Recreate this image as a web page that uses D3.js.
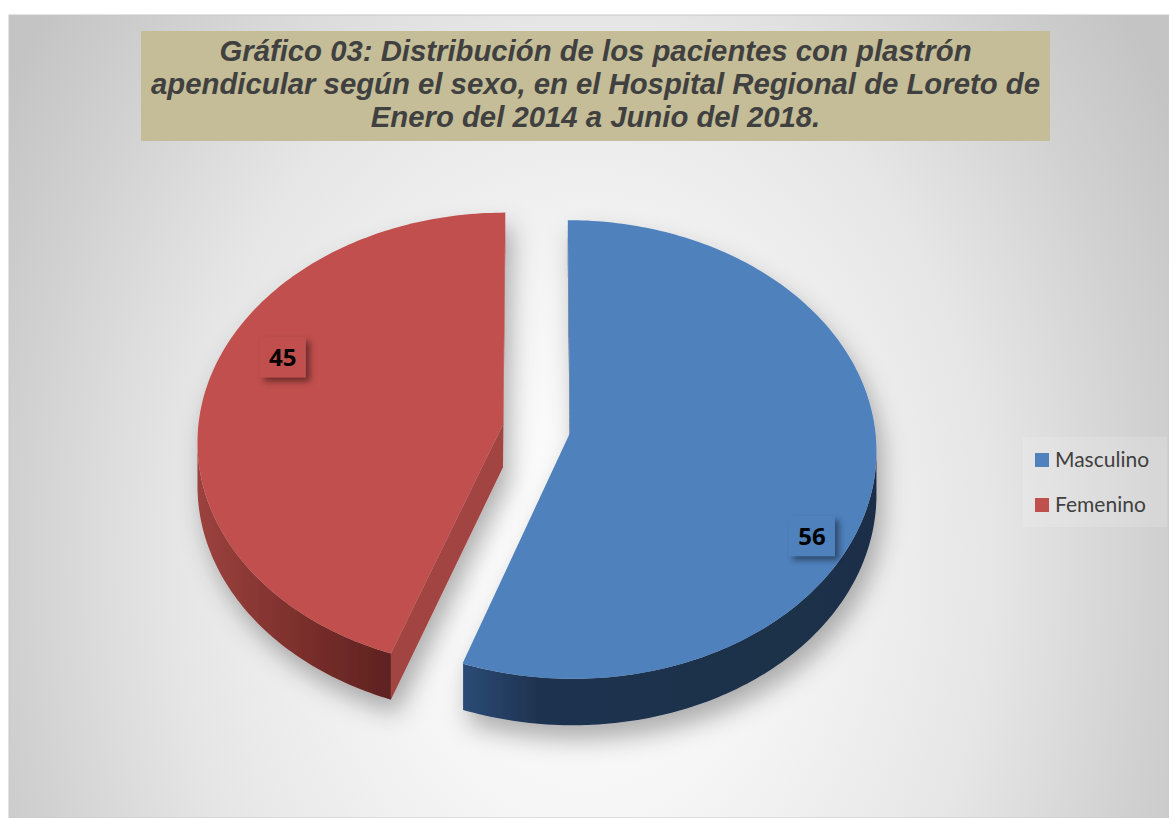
<!DOCTYPE html>
<html>
<head>
<meta charset="utf-8">
<script src="https://cdn.jsdelivr.net/npm/d3@7"></script>
<style>
  body { margin: 0; background: #fff; }
  svg { display: block; }
</style>
</head>
<body>
<div id="chart"></div>
<script>
const categories = ['Masculino', 'Femenino'];
const values = [56, 45];
const colors = ['#4f81bd', '#c0504d'];
const sideColors = [['#2b4b76', '#1f3350', '#1d2f47'], ['#9c423f', '#7d302d', '#5e221f']];
const faceColors = ['#1f3350', '#a24542'];
const titleLines = [
  'Gráfico 03: Distribución de los pacientes con plastrón',
  'apendicular según el sexo, en el Hospital Regional de Loreto de',
  'Enero del 2014 a Junio del 2018.',
];

const width = 1169, height = 818;
const svg = d3.select('#chart').append('svg')
  .attr('width', width).attr('height', height);
const defs = svg.append('defs');

// background
const bg = defs.append('radialGradient').attr('id', 'bg')
  .attr('gradientUnits', 'userSpaceOnUse')
  .attr('cx', 0).attr('cy', 0).attr('r', 1)
  .attr('gradientTransform', 'translate(585,560) scale(680,900)');
[[0, '#ffffff'], [0.3, '#f5f5f5'], [0.6, '#e6e6e6'], [0.85, '#d0d0d0'], [1, '#c4c4c4']]
  .forEach(s => bg.append('stop').attr('offset', s[0]).attr('stop-color', s[1]));

svg.append('rect').attr('x', 9).attr('y', 15).attr('width', width - 9).attr('height', height - 15)
  .attr('fill', 'url(#bg)').attr('stroke', '#c8c8c8').attr('stroke-width', 1);

// shadows
const sh = defs.append('filter').attr('id', 'pieShadow')
  .attr('x', '-20%').attr('y', '-20%').attr('width', '140%').attr('height', '150%');
sh.append('feDropShadow').attr('dx', 6).attr('dy', 14).attr('stdDeviation', 12)
  .attr('flood-color', '#000').attr('flood-opacity', 0.3);
const lsh = defs.append('filter').attr('id', 'labelShadow')
  .attr('x', '-30%').attr('y', '-30%').attr('width', '180%').attr('height', '180%');
lsh.append('feDropShadow').attr('dx', 4).attr('dy', 4).attr('stdDeviation', 3)
  .attr('flood-color', '#000').attr('flood-opacity', 0.45);

// title
svg.append('rect').attr('x', 141).attr('y', 31).attr('width', 909).attr('height', 110)
  .attr('fill', '#c4bd97');
svg.append('g').selectAll('text').data(titleLines).join('text')
  .attr('x', 595.5).attr('y', (d, i) => 61 + i * 33)
  .attr('text-anchor', 'middle')
  .attr('font-family', 'Liberation Sans, Arial, sans-serif')
  .attr('font-weight', 'bold').attr('font-style', 'italic')
  .attr('font-size', '29.3px').attr('fill', '#404040')
  .text(d => d);

// 3d pie projection
const cx = 536.5, cy = 428.5, Sx = 305, Sy = 227.5, D = 13.8, H = 43, explode = 0.1115;
function proj(X, Z, level) {
  const p = D / (D + Z);
  return [cx + Sx * X * p, cy - Sy * Z * p + level * H * p];
}

const arcs = d3.pie().sort(null).value(d => d)(values);
const step = Math.PI / 180;

function rim(ox, oz, a0, a1, level) {
  const pts = [];
  const n = Math.max(2, Math.ceil((a1 - a0) / step));
  for (let i = 0; i <= n; i++) {
    const a = a0 + (a1 - a0) * i / n;
    pts.push(proj(ox + Math.sin(a), oz + Math.cos(a), level));
  }
  return pts;
}

const line = d3.line();
const pieG = svg.append('g');

// draw the far slice first
const order = arcs.map((a, i) => i).sort((i, j) => {
  const mi = (arcs[i].startAngle + arcs[i].endAngle) / 2;
  const mj = (arcs[j].startAngle + arcs[j].endAngle) / 2;
  return Math.cos(mj) - Math.cos(mi);
});

order.forEach(i => {
  const a = arcs[i];
  const mid = (a.startAngle + a.endAngle) / 2;
  const ox = explode * Math.sin(mid), oz = explode * Math.cos(mid);
  const g = pieG.append('g').attr('filter', 'url(#pieShadow)');

  // radial faces that face the camera
  [[a.startAngle, -1], [a.endAngle, 1]].forEach(([ang, dir]) => {
    const nx = Math.sin(ang + dir * Math.PI / 2), nz = Math.cos(ang + dir * Math.PI / 2);
    const vis = (0 - ox) * nx + (-D - oz) * nz;
    if (vis <= 0) return;
    const rx = ox + Math.sin(ang), rz = oz + Math.cos(ang);
    const pts = [proj(ox, oz, 0), proj(rx, rz, 0), proj(rx, rz, 1), proj(ox, oz, 1)];
    g.append('path').attr('d', line(pts) + 'Z').attr('fill', faceColors[i]);
  });

  // outer curved side, visible part only
  const visA = [];
  for (let t = a.startAngle; t <= a.endAngle + 1e-9; t += step / 4) {
    const v = -ox * Math.sin(t) - 1 - (D + oz) * Math.cos(t);
    if (v > 0) visA.push(t);
  }
  if (visA.length > 1) {
    const s0 = visA[0], s1 = Math.min(visA[visA.length - 1], a.endAngle);
    const top = rim(ox, oz, s0, s1, 0);
    const bot = rim(ox, oz, s0, s1, 1).reverse();
    const xs = top.map(p => p[0]);
    const gid = 'side' + i;
    const lg = defs.append('linearGradient').attr('id', gid)
      .attr('gradientUnits', 'userSpaceOnUse')
      .attr('x1', d3.min(xs)).attr('x2', d3.max(xs)).attr('y1', 0).attr('y2', 0);
    const stops = i === 0 ? [0, 0.18, 1] : [0, 0.5, 1];
    stops.forEach((o, k) => lg.append('stop').attr('offset', o).attr('stop-color', sideColors[i][k]));
    g.append('path').attr('d', line(top.concat(bot)) + 'Z').attr('fill', `url(#${gid})`);
  }

  // top face
  const topPts = [proj(ox, oz, 0)].concat(rim(ox, oz, a.startAngle, a.endAngle, 0));
  g.append('path').attr('d', line(topPts) + 'Z').attr('fill', colors[i]);
});

// data labels ("best fit" placement on the top face)
const labelShift = [0.35, 0.215], labelR = [0.88, 0.8];
const labelG = svg.append('g');
arcs.forEach((a, i) => {
  const mid = (a.startAngle + a.endAngle) / 2;
  const ox = explode * Math.sin(mid), oz = explode * Math.cos(mid);
  const la = mid + labelShift[i], lr = labelR[i];
  const [lx, ly] = proj(ox + lr * Math.sin(la), oz + lr * Math.cos(la), 0);
  labelG.append('rect').attr('x', lx - 23).attr('y', ly - 20).attr('width', 46).attr('height', 40)
    .attr('fill', colors[i]).attr('filter', 'url(#labelShadow)');
  labelG.append('text').attr('x', lx).attr('y', ly + 8.5)
    .attr('text-anchor', 'middle')
    .attr('font-family', 'Open Sans, sans-serif').attr('font-weight', 'bold')
    .attr('font-size', '24px').attr('fill', '#000')
    .text(values[i]);
});

// legend
const legend = svg.append('g').attr('transform', 'translate(1023,437)');
legend.append('rect').attr('width', 144).attr('height', 90)
  .attr('fill', '#ffffff').attr('opacity', 0.15);
const items = legend.selectAll('g.item').data(categories).join('g')
  .attr('class', 'item')
  .attr('transform', (d, i) => `translate(12,${16 + i * 45})`);
items.append('rect').attr('width', 14).attr('height', 14).attr('fill', (d, i) => colors[i]);
items.append('text').attr('x', 20).attr('y', 14)
  .attr('font-family', 'Lato, sans-serif').attr('font-size', '21px').attr('fill', '#404040')
  .text(d => d);
</script>
</body>
</html>
